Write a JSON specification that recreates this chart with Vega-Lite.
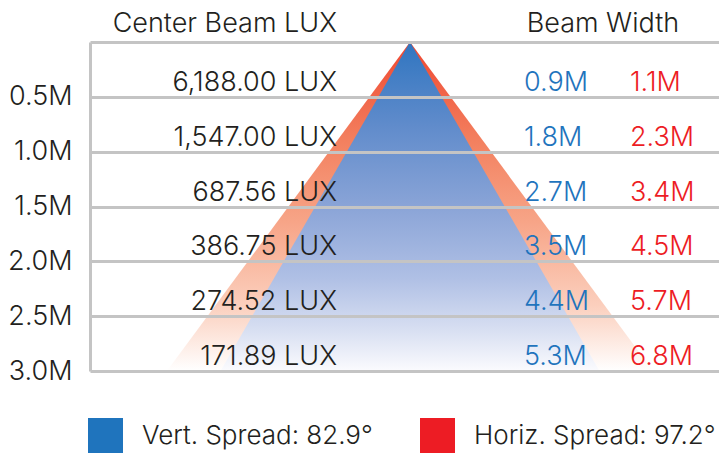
{
  "$schema": "https://vega.github.io/schema/vega-lite/v6.json",
  "width": 629,
  "height": 329,
  "autosize": {"type": "none"},
  "padding": {"left": 90, "top": 42, "right": 0, "bottom": 87},
  "background": "#ffffff",
  "config": {
    "view": {"stroke": null},
    "font": "Inter",
    "text": {"font": "Inter", "fontSize": 27, "fontWeight": 350, "color": "#231f20"}
  },
  "datasets": {
    "beam": [
      {"beam": "Horiz", "distance": 0, "left": 0, "right": 0},
      {"beam": "Horiz", "distance": 3, "left": -3.4, "right": 3.4},
      {"beam": "Vert", "distance": 0, "left": 0, "right": 0},
      {"beam": "Vert", "distance": 3, "left": -2.65, "right": 2.65}
    ],
    "rows": [
      {"distance": 0.5, "lux": "6,188.00 LUX", "vert": "0.9M", "horiz": "1.1M"},
      {"distance": 1.0, "lux": "1,547.00 LUX", "vert": "1.8M", "horiz": "2.3M"},
      {"distance": 1.5, "lux": "687.56 LUX", "vert": "2.7M", "horiz": "3.4M"},
      {"distance": 2.0, "lux": "386.75 LUX", "vert": "3.5M", "horiz": "4.5M"},
      {"distance": 2.5, "lux": "274.52 LUX", "vert": "4.4M", "horiz": "5.7M"},
      {"distance": 3.0, "lux": "171.89 LUX", "vert": "5.3M", "horiz": "6.8M"}
    ],
    "headers": [
      {"column": "lux", "label": "Center Beam LUX"},
      {"column": "width", "label": "Beam Width"}
    ]
  },
  "layer": [
    {
      "data": {"name": "beam"},
      "transform": [{"filter": "datum.beam == 'Horiz'"}],
      "mark": {
        "type": "area",
        "orient": "horizontal",
        "color": {
          "gradient": "linear", "x1": 0, "y1": 0, "x2": 0, "y2": 1,
          "stops": [
            {"offset": 0, "color": "#ef4630"},
            {"offset": 0.3, "color": "#f3805f"},
            {"offset": 0.55, "color": "#f7a588"},
            {"offset": 0.8, "color": "#fbcfbd"},
            {"offset": 1, "color": "#ffffff"}
          ]
        }
      },
      "encoding": {
        "y": {"field": "distance", "type": "quantitative", "scale": {"domain": [0, 3], "reverse": true, "nice": false, "zero": false},
          "axis": {
            "values": [0, 0.5, 1, 1.5, 2, 2.5, 3],
            "labelExpr": "datum.value == 0 ? '' : format(datum.value, '.1f') + 'M'",
            "grid": true, "gridColor": "#c4c4c4", "gridWidth": 3,
            "domain": true, "domainColor": "#c4c4c4", "domainWidth": 3,
            "ticks": false, "labelPadding": 18,
            "labelFont": "Inter", "labelFontSize": 27, "labelFontWeight": 350, "labelColor": "#231f20",
            "title": null, "zindex": 1
          }
        },
        "x": {"field": "left", "type": "quantitative", "scale": {"domain": [-4.476, 4.322], "nice": false, "zero": false}, "axis": null},
        "x2": {"field": "right"}
      }
    },
    {
      "data": {"name": "beam"},
      "transform": [{"filter": "datum.beam == 'Vert'"}],
      "mark": {
        "type": "area",
        "orient": "horizontal",
        "color": {
          "gradient": "linear", "x1": 0, "y1": 0, "x2": 0, "y2": 1,
          "stops": [
            {"offset": 0, "color": "#2f75c0"},
            {"offset": 0.25, "color": "#5f8bcb"},
            {"offset": 0.5, "color": "#8aa4d7"},
            {"offset": 0.72, "color": "#b0c0e5"},
            {"offset": 0.88, "color": "#d9e0f2"},
            {"offset": 1, "color": "#fbfbfe"}
          ]
        }
      },
      "encoding": {
        "y": {"field": "distance", "type": "quantitative"},
        "x": {"field": "left", "type": "quantitative"},
        "x2": {"field": "right"}
      }
    },
    {
      "mark": {"type": "rule", "color": "#c4c4c4", "strokeWidth": 3},
      "encoding": {"x": {"datum": 0, "type": "quantitative"}}
    },
    {
      "data": {"name": "rows"},
      "mark": {"type": "text", "align": "right", "baseline": "alphabetic", "dy": -6},
      "encoding": {
        "y": {"field": "distance", "type": "quantitative"},
        "x": {"datum": -1.021, "type": "quantitative"},
        "text": {"field": "lux"}
      }
    },
    {
      "data": {"name": "rows"},
      "mark": {"type": "text", "align": "left", "baseline": "alphabetic", "dy": -6},
      "encoding": {
        "y": {"field": "distance", "type": "quantitative"},
        "x": {"datum": 1.594, "type": "quantitative"},
        "text": {"field": "vert"},
        "color": {
          "datum": "Vert. Spread: 82.9°", "type": "nominal",
          "scale": {"domain": ["Vert. Spread: 82.9°", "Horiz. Spread: 97.2°"], "range": ["#1f74bd", "#ed1c24"]},
          "legend": {
            "title": null, "orient": "none", "legendX": -2, "legendY": 376,
            "direction": "horizontal", "padding": 0,
            "symbolType": "square", "symbolSize": 1225, "symbolStrokeWidth": 0, "symbolOpacity": 1,
            "labelFont": "Inter", "labelFontSize": 26, "labelFontWeight": 350, "labelColor": "#231f20",
            "labelOffset": 19, "labelLimit": 400, "columnPadding": 47
          }
        }
      }
    },
    {
      "data": {"name": "rows"},
      "mark": {"type": "text", "align": "left", "baseline": "alphabetic", "dy": -6},
      "encoding": {
        "y": {"field": "distance", "type": "quantitative"},
        "x": {"datum": 3.077, "type": "quantitative"},
        "text": {"field": "horiz"},
        "color": {"datum": "Horiz. Spread: 97.2°", "type": "nominal"}
      }
    },
    {
      "data": {"name": "headers"},
      "transform": [{"filter": "datum.column == 'lux'"}],
      "mark": {"type": "text", "align": "right", "baseline": "alphabetic", "dy": -10},
      "encoding": {
        "y": {"datum": 0, "type": "quantitative"},
        "x": {"datum": -1.021, "type": "quantitative"},
        "text": {"field": "label"}
      }
    },
    {
      "data": {"name": "headers"},
      "transform": [{"filter": "datum.column == 'width'"}],
      "mark": {"type": "text", "align": "left", "baseline": "alphabetic", "dy": -10},
      "encoding": {
        "y": {"datum": 0, "type": "quantitative"},
        "x": {"datum": 1.632, "type": "quantitative"},
        "text": {"field": "label"}
      }
    }
  ]
}
